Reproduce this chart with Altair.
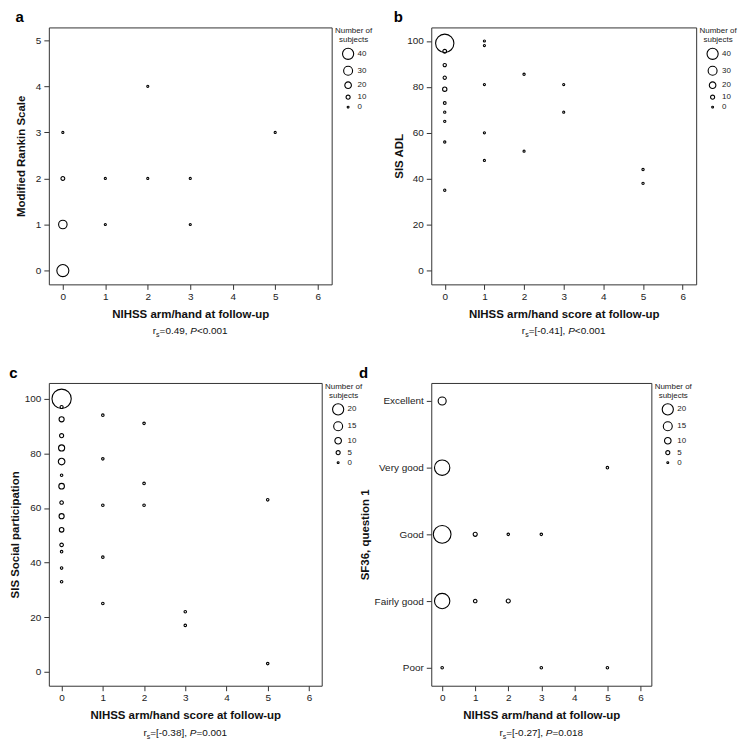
import altair as alt
import pandas as pd

FONT = "Liberation Sans"

# ---------------- data ----------------
# Panel a: Modified Rankin Scale vs NIHSS arm/hand
a_x = [0, 0, 0, 0, 1, 1, 2, 2, 3, 3, 5]
a_y = [0, 1, 2, 3, 1, 2, 2, 4, 1, 2, 3]
a_n = [44, 28, 9, 2, 2, 2, 2, 2, 2, 2, 2]

# Panel b: SIS ADL
b_x = [0, 0, 0, 0, 0, 0, 0, 0, 0, 0, 1, 1, 1, 1, 1, 2, 2, 3, 3, 5, 5]
b_y = [99, 95.5, 89.5, 84, 79, 73, 69, 65, 56, 35,
       100, 98, 81, 60, 48, 85.5, 52, 81, 69, 44, 38]
b_n = [75, 9, 7, 7, 11, 5, 3, 3, 3, 3,
       2, 2, 2, 2, 2, 3, 2, 2, 2, 3, 3]

# Panel c: SIS Social participation
c_x = [0] * 15 + [1] * 5 + [2] * 3 + [3] * 2 + [5] * 2
c_y = [100, 97, 92.5, 86.5, 82, 77, 72, 68, 62, 57, 52, 46.5, 44, 38, 33,
       94, 78, 61, 42, 25, 91, 69, 61, 22, 17, 63, 3]
c_n = [40, 3, 7, 5, 9, 10, 2, 8, 4, 7, 6, 4, 2, 2, 2,
       2, 2, 2, 2, 2, 2, 2, 2, 2, 2, 2, 2]

# Panel d: SF36 question 1
d_cats = ["Excellent", "Very good", "Good", "Fairly good", "Poor"]
d_x = [0, 0, 5, 0, 1, 2, 3, 0, 1, 2, 0, 3, 5]
d_y = ["Excellent", "Very good", "Very good", "Good", "Good", "Good", "Good",
       "Fairly good", "Fairly good", "Fairly good", "Poor", "Poor", "Poor"]
d_n = [13, 30, 2, 36, 5, 2, 2, 30, 4, 5, 2, 2, 2]

x_ticks = [0, 1, 2, 3, 4, 5, 6]
legend_ab = [40, 30, 20, 10, 0]
legend_cd = [20, 15, 10, 5, 0]

stats = {
    "a": ("0.49", "<0.001"),
    "b": ("[-0.41]", "<0.001"),
    "c": ("[-0.38]", "=0.001"),
    "d": ("[-0.27]", "=0.018"),
}

# ---------------- helpers ----------------
W = {" ": 278, ",": 278, "-": 333, ".": 278, "<": 584, "=": 584, "[": 278,
     "]": 278, "r": 333, "s": 500, "P": 667}
for ch in "0123456789":
    W[ch] = 556


def tw(s, size):
    return sum(W.get(ch, 556) for ch in s) * size / 1000.0


def stat_layers(letter, width, height):
    val, pval = stats[letter]
    fs = 10
    parts = [("r", fs, "normal", 0), ("s", 7, "normal", 3),
             ("=" + val + ", ", fs, "normal", 0), ("P", fs, "italic", 0),
             (pval, fs, "normal", 0)]
    total = sum(tw(p[0], p[1]) for p in parts)
    x0 = width / 2 - total / 2
    y0 = height + 50
    layers = []
    for text, size, style, dy in parts:
        layers.append(
            alt.Chart(pd.DataFrame({"t": [text]}))
            .mark_text(align="left", baseline="alphabetic", font=FONT,
                       fontSize=size, fontStyle=style, color="#111")
            .encode(text="t:N", x=alt.value(x0), y=alt.value(y0 + dy))
        )
        x0 += tw(text, size)
    return layers


def panel(letter, xs, ys, ns, xtitle, w, h, xdom, yenc, smax, legvals):
    df = pd.DataFrame({"x": xs, "y": ys, "n": ns})
    pts = alt.Chart(df).mark_point(
        shape="circle", filled=False, stroke="black", strokeWidth=1.1, opacity=1
    ).encode(
        x=alt.X("x:Q", scale=alt.Scale(domain=xdom, nice=False, zero=False),
                axis=alt.Axis(values=x_ticks, title=xtitle, format="d")),
        y=yenc,
        size=alt.Size("n:Q",
                      scale=alt.Scale(type="pow", exponent=1.6, domain=[0, smax],
                                      range=[3.4, 126]),
                      legend=alt.Legend(values=legvals,
                                        title=["Number of", "subjects"])),
    )
    return alt.layer(pts, *stat_layers(letter, w, h)).properties(
        width=w, height=h,
        title=alt.TitleParams(letter, anchor="start", frame="bounds", fontSize=15,
                              fontWeight="bold", font=FONT, offset=2,
                              color="#000"),
    )


ya = alt.Y("y:Q", scale=alt.Scale(domain=[-0.3, 5.28], nice=False, zero=False),
           axis=alt.Axis(values=[0, 1, 2, 3, 4, 5], title="Modified Rankin Scale",
                         titlePadding=9))
yb = alt.Y("y:Q", scale=alt.Scale(domain=[-6, 105.9], nice=False, zero=False),
           axis=alt.Axis(values=[0, 20, 40, 60, 80, 100], title="SIS ADL",
                         titlePadding=2))
yc = alt.Y("y:Q", scale=alt.Scale(domain=[-5.1, 105.8], nice=False, zero=False),
           axis=alt.Axis(values=[0, 20, 40, 60, 80, 100],
                         title="SIS Social participation", titlePadding=4))
yd = alt.Y("y:O", scale=alt.Scale(domain=d_cats, type="point", padding=0.27),
           axis=alt.Axis(title="SF36, question 1", titlePadding=4))

pa = panel("a", a_x, a_y, a_n, "NIHSS arm/hand at follow-up", 284, 258,
           [-0.33, 6.33], ya, 40, legend_ab)
pb = panel("b", b_x, b_y, b_n, "NIHSS arm/hand score at follow-up", 266, 258,
           [-0.34, 6.34], yb, 40, legend_ab)
pc = panel("c", c_x, c_y, c_n, "NIHSS arm/hand score at follow-up", 274, 304,
           [-0.31, 6.31], yc, 20, legend_cd)
pd_ = panel("d", d_x, d_y, d_n, "NIHSS arm/hand at follow-up", 221, 304,
            [-0.33, 6.33], yd, 20, legend_cd)

chart = alt.concat(
    pa, pb, pc, pd_, columns=2,
    spacing=alt.RowColnumber(row=99, column=100),
    bounds="flush", align="each",
).resolve_scale(x="independent", y="independent", size="independent") \
 .resolve_legend(size="independent") \
 .properties(padding=0) \
 .configure(font=FONT) \
 .configure_view(stroke="#333", strokeWidth=1) \
 .configure_axis(labelFont=FONT, labelFontSize=10, labelColor="#222",
                 titleFont=FONT, titleFontSize=11.5, titleFontWeight="bold",
                 titleColor="#111", domain=False, grid=False, tickColor="#333",
                 tickSize=5, labelPadding=3) \
 .configure_axisX(titlePadding=7, labelPadding=2) \
 .configure_legend(titleFont=FONT, titleFontSize=8, titleFontWeight="normal",
                   titleColor="#222", labelFont=FONT, labelFontSize=8,
                   labelColor="#222", offset=3, padding=0, rowPadding=1,
                   symbolStrokeColor="black", symbolStrokeWidth=1.1,
                   symbolFillColor="transparent", titleAlign="center",
                   titleAnchor="middle", titleLineHeight=9, titlePadding=3,
                   labelOffset=3)

chart.save("out.html", embed_options={"renderer": "svg", "actions": False})
